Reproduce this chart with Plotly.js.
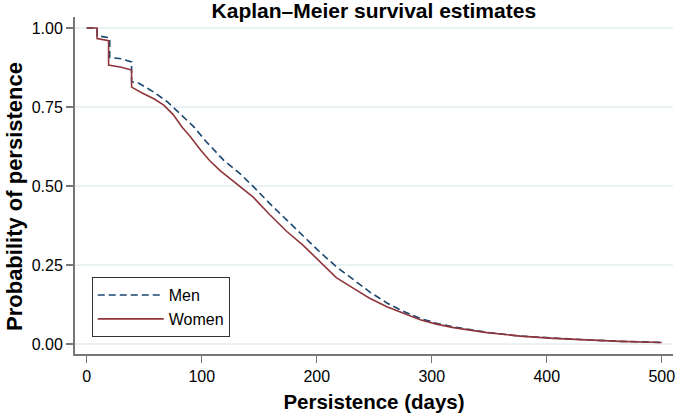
<!DOCTYPE html>
<html>
<head>
<meta charset="utf-8">
<script src="https://cdn.plot.ly/plotly-3.0.1.min.js"></script>
<style>html,body{margin:0;padding:0;background:#fff;}#chart{width:676px;height:415px;}</style>
</head>
<body>
<div id="chart"></div>
<script>
// Kaplan–Meier estimates (days, survival probability)
const menDays = [0, 9, 9, 20, 20, 30, 39, 39, 45, 58, 70, 81, 93, 104, 116, 119, 133, 145, 159, 174, 188, 203, 217, 232, 246, 261, 275, 290, 304, 319, 348, 377, 406, 435, 464, 500];
const menSurv = [1.0, 1.0, 0.976, 0.969, 0.907, 0.903, 0.893, 0.830, 0.826, 0.798, 0.767, 0.730, 0.688, 0.640, 0.593, 0.582, 0.540, 0.498, 0.445, 0.392, 0.340, 0.290, 0.245, 0.203, 0.165, 0.130, 0.104, 0.081, 0.066, 0.054, 0.037, 0.025, 0.018, 0.013, 0.0085, 0.005];

const womenDays = [0, 9, 9, 19, 19, 30, 39, 39, 49, 58, 67, 75, 83, 90, 99, 107, 116, 125, 131, 145, 159, 174, 188, 203, 217, 232, 246, 261, 275, 290, 304, 319, 348, 377, 406, 435, 464, 500];
const womenSurv = [1.0, 1.0, 0.967, 0.960, 0.883, 0.876, 0.867, 0.813, 0.793, 0.777, 0.756, 0.727, 0.686, 0.657, 0.614, 0.580, 0.549, 0.522, 0.506, 0.464, 0.410, 0.356, 0.313, 0.258, 0.210, 0.176, 0.145, 0.118, 0.097, 0.077, 0.063, 0.052, 0.036, 0.025, 0.018, 0.013, 0.0085, 0.005];

const xTicks = [0, 100, 200, 300, 400, 500];
const yTicks = [0, 0.25, 0.5, 0.75, 1.0];
const yTickLabels = ["0.00", "0.25", "0.50", "0.75", "1.00"];

const FONT = "Liberation Sans, Arial, Helvetica, sans-serif";

const traces = [
  {x: menDays, y: menSurv, type: "scatter", mode: "lines", name: "Men",
   line: {color: "#1a476f", width: 1.6, dash: "7px,4px"}},
  {x: womenDays, y: womenSurv, type: "scatter", mode: "lines", name: "Women",
   line: {color: "#90353b", width: 1.6}}
];

const layout = {
  width: 676, height: 415,
  margin: {l: 75, r: 3, t: 17, b: 61, pad: 0},
  paper_bgcolor: "#ffffff", plot_bgcolor: "#ffffff",
  font: {family: FONT, color: "#000"},
  title: {text: "<b>Kaplan–Meier survival estimates</b>", font: {size: 21, family: FONT, color: "#000"},
          x: 0.553, xanchor: "center", y: 0.991, yanchor: "top"},
  xaxis: {range: [-10.2, 509.8], tickvals: xTicks, ticktext: xTicks.map(String),
          showgrid: false, zeroline: false, showline: true, linecolor: "#777", linewidth: 2,
          ticks: "outside", ticklen: 7, tickwidth: 1.5, tickcolor: "#777",
          tickfont: {size: 16, family: FONT, color: "#000"},
          title: {text: "<b>Persistence (days)</b>", font: {size: 20.5, family: FONT, color: "#000"}, standoff: 10}},
  yaxis: {range: [-0.0316, 1.035], tickvals: yTicks, ticktext: yTickLabels,
          showgrid: true, gridcolor: "#eaf2f3", gridwidth: 1.5, zeroline: false,
          showline: true, linecolor: "#777", linewidth: 2,
          ticks: "outside", ticklen: 7, tickwidth: 1.5, tickcolor: "#777",
          tickfont: {size: 16, family: FONT, color: "#000"}},
  annotations: [{text: "<b>Probability of persistence</b>", textangle: -90, showarrow: false,
                 xref: "paper", yref: "paper", x: -0.1003, y: 0.466, xanchor: "center", yanchor: "middle",
                 font: {size: 22, family: FONT, color: "#000"}}],
  legend: {x: 0.028, y: 0.228, xanchor: "left", yanchor: "top",
           bgcolor: "#ffffff", bordercolor: "#333", borderwidth: 1, itemwidth: 66,
           font: {size: 16, family: FONT, color: "#000"}},
  showlegend: true
};

Plotly.newPlot("chart", traces, layout, {displayModeBar: false, staticPlot: true});
</script>
</body>
</html>
